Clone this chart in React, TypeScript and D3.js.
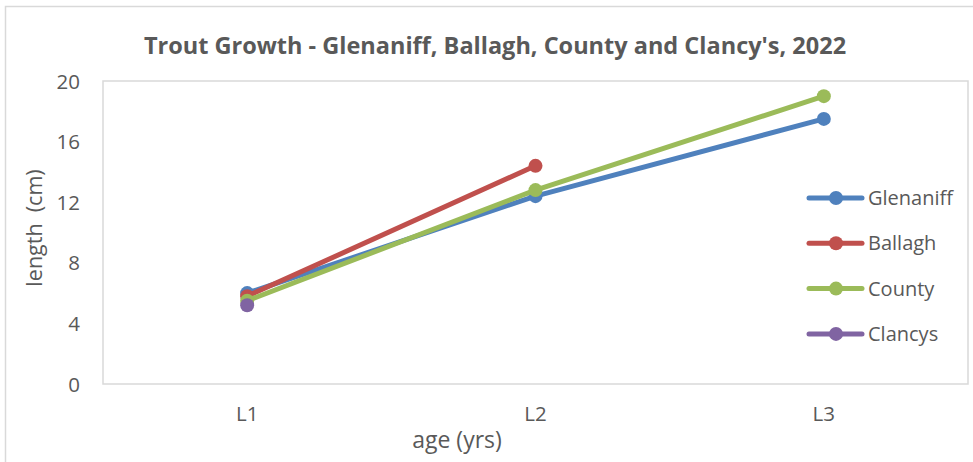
import React from "react";
import * as d3 from "d3";

// Chart data
const categories = ["L1", "L2", "L3"];
const glenaniff = [6.0, 12.4, 17.5];
const ballagh = [5.8, 14.4, null];
const county = [5.5, 12.8, 19.0];
const clancys = [5.2, null, null];
const yTicks = [0, 4, 8, 12, 16, 20];

const seriesNames = ["Glenaniff", "Ballagh", "County", "Clancys"];
const seriesValues = [glenaniff, ballagh, county, clancys];
const colors = ["#4F81BD", "#C0504D", "#9BBB59", "#8064A2"];

const width = 973;
const height = 462;
const plot = { left: 103, right: 968, top: 81, bottom: 384 };
const font = "'Open Sans', 'Noto Sans', sans-serif";
const textColor = "#595959";

export default function App() {
  const x = d3.scaleBand().domain(categories).range([plot.left, plot.right]);
  const y = d3.scaleLinear().domain([0, 20]).range([plot.bottom, plot.top]);
  const cx = (c: string) => (x(c) as number) + x.bandwidth() / 2;

  const line = d3
    .line<number | null>()
    .defined((d) => d !== null)
    .x((_, i) => cx(categories[i]))
    .y((d) => y(d as number));

  return (
    <div style={{ position: "absolute", left: 0, top: 0 }}>
      <svg width={width} height={height} style={{ display: "block", background: "#fff" }}>
        {/* outer chart border */}
        <rect x={5.5} y={6.5} width={1000} height={500} fill="#fff" stroke="#D9D9D9" strokeWidth={1.5} />
        {/* plot area border */}
        <rect
          x={plot.left}
          y={plot.top}
          width={plot.right - plot.left}
          height={plot.bottom - plot.top}
          fill="none"
          stroke="#D9D9D9"
          strokeWidth={1.5}
        />

        <text x={495} y={54} textAnchor="middle" fontFamily={font} fontWeight="bold" fontSize={23.5} fill={textColor}>
          Trout Growth - Glenaniff, Ballagh, County and Clancy's, 2022
        </text>

        {/* y axis labels */}
        {yTicks.map((t) => (
          <text key={t} x={80} y={y(t) + 7.5} textAnchor="end" fontFamily={font} fontSize={20.5} fill={textColor}>
            {t}
          </text>
        ))}
        <text
          transform={`translate(42, 228) rotate(-90)`}
          textAnchor="middle"
          fontFamily={font}
          fontSize={21.5}
          fill={textColor}
        >
          {"length\u00a0\u00a0(cm)"}
        </text>

        {/* x axis labels */}
        {categories.map((c) => (
          <text key={c} x={cx(c)} y={421} textAnchor="middle" fontFamily={font} fontSize={20.5} fill={textColor}>
            {c}
          </text>
        ))}
        <text x={457} y={448} textAnchor="middle" fontFamily={font} fontSize={23} fill={textColor}>
          age (yrs)
        </text>

        {/* series */}
        {seriesValues.map((vals, si) => (
          <g key={seriesNames[si]}>
            <path
              d={line(vals) || ""}
              fill="none"
              stroke={colors[si]}
              strokeWidth={5}
              strokeLinecap="round"
              strokeLinejoin="round"
            />
            {vals.map((v, i) =>
              v === null ? null : (
                <circle key={i} cx={cx(categories[i])} cy={y(v)} r={7} fill={colors[si]} />
              )
            )}
          </g>
        ))}

        {/* legend */}
        {seriesNames.map((name, i) => {
          const ly = 198 + i * 45.3;
          return (
            <g key={name}>
              <line x1={809} x2={862} y1={ly} y2={ly} stroke={colors[i]} strokeWidth={5} strokeLinecap="round" />
              <circle cx={836} cy={ly} r={7} fill={colors[i]} />
              <text x={868} y={ly + 7} fontFamily={font} fontSize={20} fill={textColor}>
                {name}
              </text>
            </g>
          );
        })}
      </svg>
    </div>
  );
}
